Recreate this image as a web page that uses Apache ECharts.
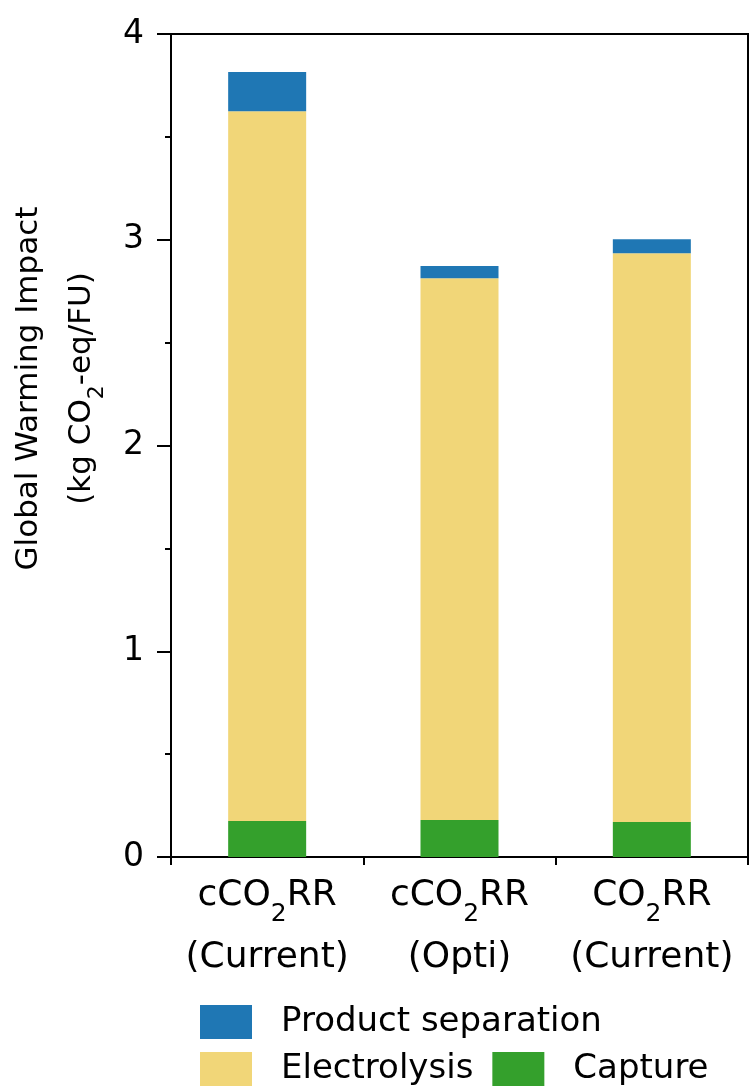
<!DOCTYPE html>
<html>
<head>
<meta charset="utf-8">
<script src="https://cdn.jsdelivr.net/npm/echarts@6/dist/echarts.min.js"></script>
<style>
  html, body { margin: 0; padding: 0; background: #fff; }
  #chart { width: 750px; height: 1091px; }
</style>
</head>
<body>
<div id="chart"></div>
<script>
const categories = ["cCO2RR\n(Current)", "cCO2RR\n(Opti)", "CO2RR\n(Current)"];
const capture = [0.175, 0.18, 0.17];
const electrolysis = [3.45, 2.633, 2.764];
const productSeparation = [0.19, 0.06, 0.068];
const yTicks = [0, 1, 2, 3, 4];

const FONT = "DejaVu Sans, sans-serif";

// wrap each line in rich tags and make the "2" a subscript
function subscript(text) {
  return text.split("\n").map(line => "{n|" + line.replace("2", "}{s|2}{n|") + "}").join("\n");
}

const chart = echarts.init(document.getElementById("chart"));

const richCat = {
  n: { fontSize: 36, lineHeight: 62, color: "#000", fontFamily: FONT },
  s: { fontSize: 25, lineHeight: 30, verticalAlign: "bottom", color: "#000", fontFamily: FONT }
};
const richName = {
  n: { fontSize: 31, lineHeight: 53, color: "#000", fontFamily: FONT },
  s: { fontSize: 22, lineHeight: 26, verticalAlign: "bottom", color: "#000", fontFamily: FONT }
};
const legendText = { fontSize: 34, color: "#000", fontFamily: FONT, padding: [0, 0, 0, 24] };

const options = {
  animation: false,
  grid: {
    left: 171, right: 2, top: 34, bottom: 234,
    outerBoundsMode: "none",
    show: true, borderColor: "#000", borderWidth: 2
  },
  legend: [
    {
      data: ["Product separation"],
      left: 200, top: 1005, padding: 0,
      icon: "rect", itemWidth: 52, itemHeight: 34,
      textStyle: legendText
    },
    {
      data: ["Electrolysis", "Capture"],
      left: 200, top: 1052, padding: 0, itemGap: 19,
      icon: "rect", itemWidth: 52, itemHeight: 34,
      textStyle: legendText
    }
  ],
  xAxis: {
    type: "category",
    data: categories,
    axisLine: { lineStyle: { color: "#000", width: 2 } },
    axisTick: { show: true, length: 8, lineStyle: { color: "#000", width: 2 } },
    axisLabel: {
      margin: 8,
      formatter: v => subscript(v),
      rich: richCat
    }
  },
  yAxis: {
    type: "value",
    min: yTicks[0], max: yTicks[yTicks.length - 1], interval: 1,
    name: subscript("Global Warming Impact\n(kg CO2-eq/FU)"),
    nameLocation: "middle",
    nameGap: 63,
    nameTextStyle: { rich: richName, padding: [0, 0, 0, 114] },
    splitLine: { show: false },
    axisLine: { show: true, lineStyle: { color: "#000", width: 2 } },
    axisTick: { show: true, length: 14, lineStyle: { color: "#000", width: 2 } },
    minorTick: { show: true, splitNumber: 2, length: 6, lineStyle: { color: "#000", width: 2 } },
    axisLabel: { fontSize: 33, color: "#000", fontFamily: FONT, margin: 27 }
  },
  series: [
    { name: "Capture", type: "bar", stack: "total", barWidth: 78, data: capture, itemStyle: { color: "#34a02c" } },
    { name: "Electrolysis", type: "bar", stack: "total", barWidth: 78, data: electrolysis, itemStyle: { color: "#f1d678" } },
    { name: "Product separation", type: "bar", stack: "total", barWidth: 78, data: productSeparation, itemStyle: { color: "#1f77b4" } }
  ]
};

chart.setOption(options);
</script>
</body>
</html>
